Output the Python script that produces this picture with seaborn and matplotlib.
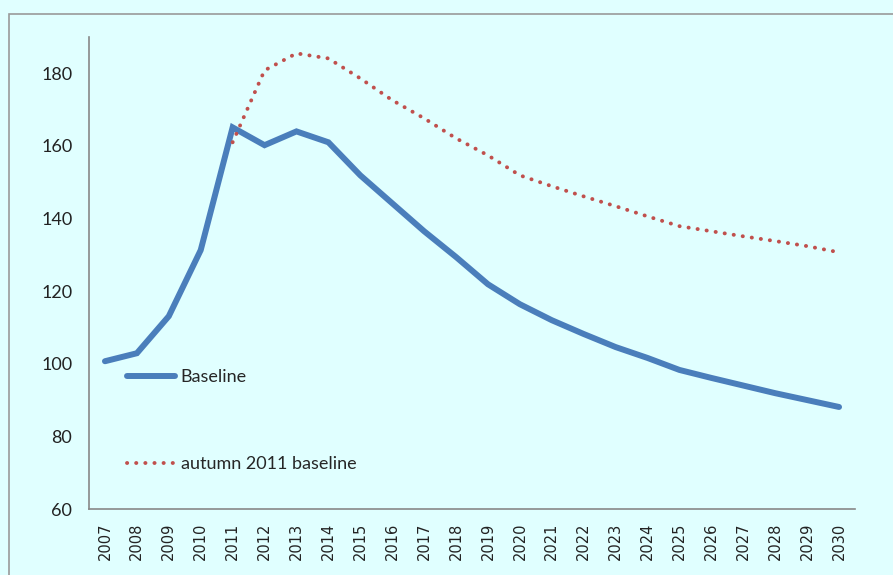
import matplotlib
matplotlib.use("Agg")
import matplotlib.pyplot as plt
import matplotlib.patches as mpatches
import seaborn as sns
import pandas as pd
import numpy as np

years = [str(y) for y in range(2007, 2031)]
baseline = [100.7, 102.9, 113.1, 131.3, 165.1, 160.2, 164.0, 161.0, 151.9, 144.2,
            136.5, 129.4, 121.9, 116.4, 112.0, 108.2, 104.6, 101.6, 98.3, 96.1,
            94.0, 91.9, 90.0, 88.1]
autumn_years = [str(y) for y in range(2011, 2031)]
autumn = [161.0, 180.8, 185.5, 184.1, 178.6, 172.6, 167.6, 162.1, 157.4, 151.9,
          148.9, 146.1, 143.4, 140.6, 137.9, 136.5, 135.1, 133.8, 132.4, 130.7]
yticks = [60, 80, 100, 120, 140, 160, 180]

sns.set_style("white")
plt.rcParams['font.family'] = ['Lato', 'DejaVu Sans']
bg = "#E0FFFF"

fig = plt.figure(figsize=(8.93, 5.75), dpi=100, facecolor=bg)
ax = fig.add_axes([89/893, 66/575, (855-89)/893, (509-37)/575])
ax.set_facecolor(bg)

# outer border
fig.patches.append(mpatches.Rectangle((9/893, -0.05), 1.0, (575-14)/575 + 0.05,
                                      transform=fig.transFigure, fill=False,
                                      edgecolor="#9a9a9a", linewidth=1.2))

pos = {y: i for i, y in enumerate(years)}
df1 = pd.DataFrame({"x": [pos[y] for y in years], "y": baseline})
df2 = pd.DataFrame({"x": [pos[y] for y in autumn_years], "y": autumn})

sns.lineplot(data=df1, x="x", y="y", ax=ax, color="#4A7EBB", linewidth=4.3,
             label="Baseline", solid_capstyle="round", solid_joinstyle="miter")
sns.lineplot(data=df2, x="x", y="y", ax=ax, color="#C0504D", linewidth=2.8,
             linestyle=(0, (0.05, 2.3)), dash_capstyle="round",
             label="autumn 2011 baseline")

ax.set_xlim(-0.5, len(years) - 0.5)
ax.set_ylim(60, 190)
ax.set_yticks(yticks)
ax.set_yticklabels([str(v) for v in yticks], fontsize=13, color="#222222")
ax.set_xticks(range(len(years)))
ax.set_xticklabels(years, rotation=90, fontsize=10.5, color="#222222",
                   family=["DejaVu Sans"])
ax.set_xticks(np.arange(-0.5, len(years), 1.0), minor=True)
ax.tick_params(axis="x", which="major", length=0, pad=10)
ax.tick_params(axis="x", which="minor", length=5, color="#888888", width=1)
ax.tick_params(axis="y", which="major", length=5, color="#888888", width=1,
               direction="out", pad=7)
ax.set_xlabel("")
ax.set_ylabel("")

for s in ["top", "right"]:
    ax.spines[s].set_visible(False)
for s in ["left", "bottom"]:
    ax.spines[s].set_color("#888888")
    ax.spines[s].set_linewidth(1.2)

leg = ax.legend(loc="upper left", bbox_to_anchor=(0.028, 0.33), frameon=False,
                fontsize=13, handlelength=2.7, labelspacing=3.9, handletextpad=0.3)

ax.grid(False)
fig.savefig("out.png", dpi=100, facecolor=bg)
